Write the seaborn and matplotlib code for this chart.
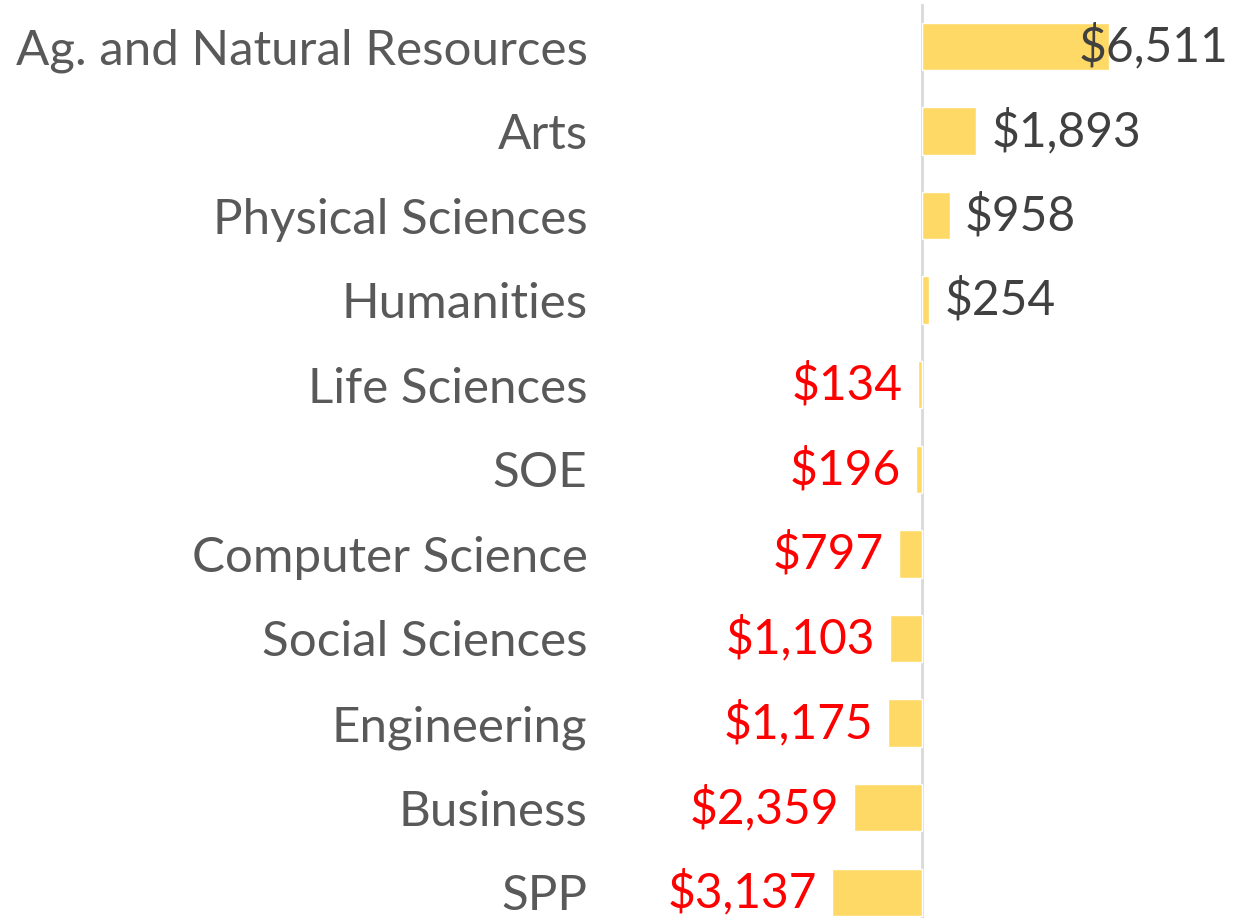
import matplotlib
matplotlib.use("Agg")
import matplotlib.pyplot as plt
import seaborn as sns

# data
categories = ["Ag. and Natural Resources", "Arts", "Physical Sciences", "Humanities",
              "Life Sciences", "SOE", "Computer Science", "Social Sciences",
              "Engineering", "Business", "SPP"]
values = [6511, 1893, 958, 254, -134, -196, -797, -1103, -1175, -2359, -3137]

sns.set_theme(style="white")
plt.rcParams['font.family'] = ['Lato', 'DejaVu Sans']
FS = 34.5       # value labels
FS_CAT = 35.5   # category labels

fig = plt.figure(figsize=(12.45, 9.18), dpi=100)
# axes placed so zero sits at ~922px and rows match the reference
ax = fig.add_axes([600 / 1245, 0.0, 645 / 1245, 914 / 918])

sns.barplot(x=values, y=categories, color="#FFD966", saturation=1,
            width=0.56, orient="h", ax=ax)

# scale: 187px per 6511
px_per_unit = 187 / 6511
ax.set_xlim(-322 / px_per_unit, 323 / px_per_unit)
row_px = 84.6
ax.set_ylim(-0.5 + 914 / row_px, -0.5)

ax.axvline(0, color="#D9D9D9", lw=2, zorder=0)

xmax = ax.get_xlim()[1]
for i, v in enumerate(values):
    label = f"${abs(v):,}"
    if v >= 0:
        # label would run off the chart -> pull it back inside, like Excel does
        if v * px_per_unit + 16 + 150 > 323:
            ax.annotate(label, (xmax, i), xytext=(-12, 0), textcoords="offset points",
                        ha="right", va="center", fontsize=FS, color="#404040")
        else:
            ax.annotate(label, (v, i), xytext=(11, 0), textcoords="offset points",
                        ha="left", va="center", fontsize=FS, color="#404040")
    else:
        ax.annotate(label, (v, i), xytext=(-11, 0), textcoords="offset points",
                    ha="right", va="center", fontsize=FS, color="#FF0000")

ax.set_xlabel("")
ax.set_ylabel("")
ax.set_xticks([])
ax.tick_params(axis="y", length=0, pad=9, labelsize=FS_CAT, labelcolor="#595959")
sns.despine(ax=ax, left=True, bottom=True)

fig.savefig("out.png", dpi=100)
